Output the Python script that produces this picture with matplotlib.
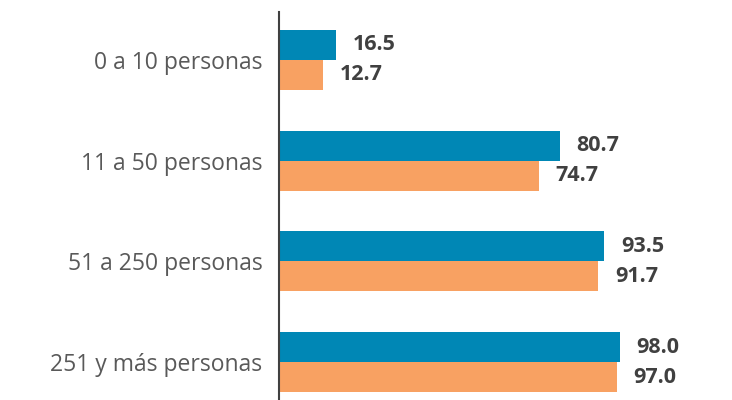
import matplotlib
matplotlib.use('Agg')
import matplotlib.pyplot as plt
import numpy as np

# datos
categorias = ['0 a 10 personas', '11 a 50 personas', '51 a 250 personas', '251 y más personas']
serie_azul = [16.5, 80.7, 93.5, 98.0]
serie_naranja = [12.7, 74.7, 91.7, 97.0]

color_azul = '#0087B5'
color_naranja = '#F8A162'

plt.rcParams['font.family'] = ['Open Sans', 'DejaVu Sans']

fig = plt.figure(figsize=(7.32, 4.0), dpi=100)
ax = fig.add_axes([279 / 732, 0.0, 1 - 279 / 732, 388 / 400])

y = np.arange(len(categorias))
h = 0.298

b1 = ax.barh(y - h / 2, serie_azul, height=h, color=color_azul)
b2 = ax.barh(y + h / 2, serie_naranja, height=h, color=color_naranja)

for barras, valores in ((b1, serie_azul), (b2, serie_naranja)):
    for barra, v in zip(barras, valores):
        ax.annotate(f'{v:.1f}', (barra.get_width(), barra.get_y() + barra.get_height() / 2),
                    xytext=(12, 0), textcoords='offset points', ha='left', va='center',
                    fontsize=15.5, fontweight='bold', color='#404040')

ax.set_xlim(0, 453 / 3.48)
ax.set_ylim(3 + 38 / 100.7, -48 / 100.7)
ax.set_yticks(y)
ax.set_yticklabels(categorias, fontsize=16.5, color='#595959')
ax.tick_params(axis='y', length=0, pad=12)
ax.set_xticks([])

for s in ['top', 'right', 'bottom']:
    ax.spines[s].set_visible(False)
ax.spines['left'].set_color('#404040')
ax.spines['left'].set_linewidth(1.5)

fig.savefig('out.png', dpi=100)
